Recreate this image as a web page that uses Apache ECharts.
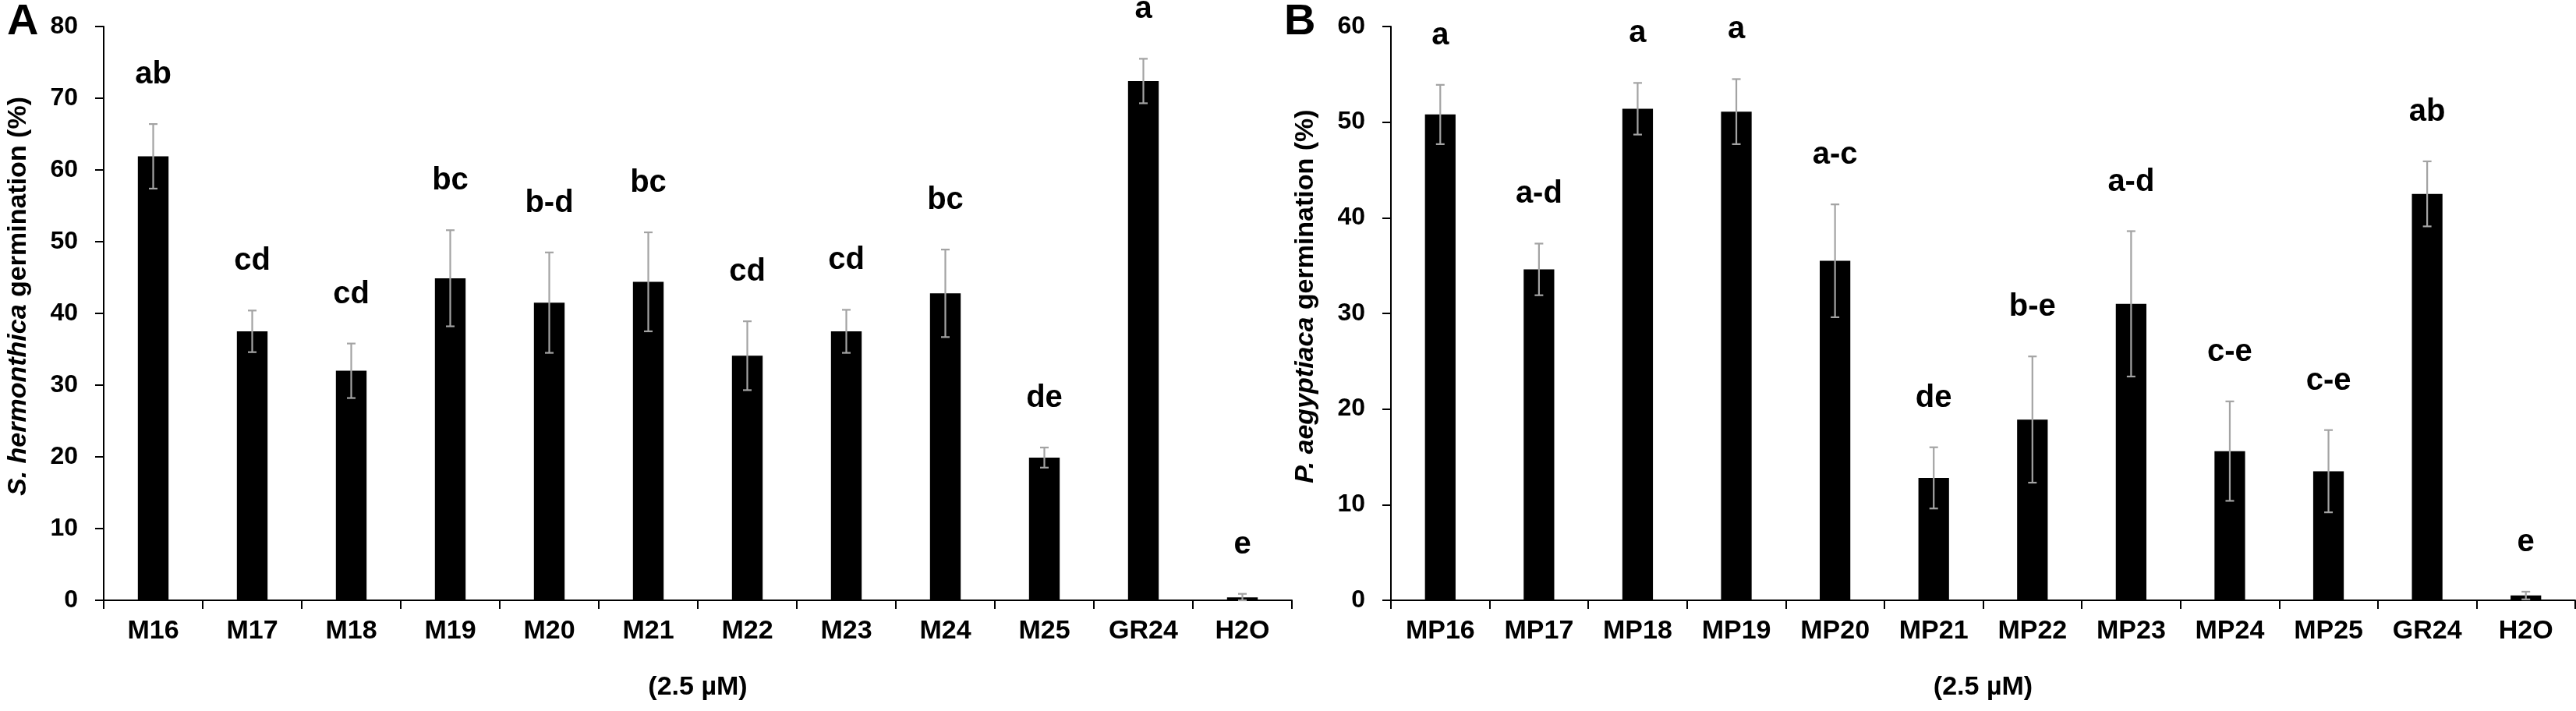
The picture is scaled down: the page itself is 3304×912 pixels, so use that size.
<!DOCTYPE html>
<html>
<head>
<meta charset="utf-8">
<script src="https://cdn.jsdelivr.net/npm/echarts@6/dist/echarts.min.js"></script>
<style>
  html, body { margin: 0; padding: 0; background: #fff; }
  #chart { width: 3304px; height: 912px; }
</style>
</head>
<body>
<div id="chart"></div>
<script>
// panel A - S. hermonthica
const catsA = ['M16', 'M17', 'M18', 'M19', 'M20', 'M21', 'M22', 'M23', 'M24', 'M25', 'GR24', 'H2O']
const meanA = [61.9, 37.5, 32.0, 44.9, 41.5, 44.4, 34.1, 37.5, 42.8, 19.9, 72.4, 0.4]
const errA = [4.5, 2.9, 3.8, 6.7, 7.0, 6.9, 4.8, 3.0, 6.1, 1.4, 3.1, 0.5]
const letA = ['ab', 'cd', 'cd', 'bc', 'b-d', 'bc', 'cd', 'cd', 'bc', 'de', 'a', 'e']
const ticksA = [0, 10, 20, 30, 40, 50, 60, 70, 80]

// panel B - P. aegyptiaca
const catsB = ['MP16', 'MP17', 'MP18', 'MP19', 'MP20', 'MP21', 'MP22', 'MP23', 'MP24', 'MP25', 'GR24', 'H2O']
const meanB = [50.8, 34.6, 51.4, 51.1, 35.5, 12.8, 18.9, 31.0, 15.6, 13.5, 42.5, 0.5]
const errB = [3.1, 2.7, 2.7, 3.4, 5.9, 3.2, 6.6, 7.6, 5.2, 4.3, 3.4, 0.4]
const letB = ['a', 'a-d', 'a', 'a', 'a-c', 'de', 'b-e', 'a-d', 'c-e', 'c-e', 'ab', 'e']
const ticksB = [0, 10, 20, 30, 40, 50, 60]

const FONT = '"Liberation Sans", Arial, sans-serif'

function xAxisFor(cats, gridIndex) {
    return {
        type: 'category',
        gridIndex: gridIndex,
        data: cats,
        boundaryGap: true,
        name: '(2.5 µM)',
        nameLocation: 'middle',
        nameGap: 95,
        nameTextStyle: { fontFamily: FONT, fontWeight: 'bold', fontSize: 34, color: '#000' },
        axisLine: { lineStyle: { color: '#000', width: 2 } },
        axisTick: { show: true, alignWithLabel: false, length: 11, lineStyle: { color: '#000', width: 2 } },
        axisLabel: { fontFamily: FONT, fontWeight: 'bold', fontSize: 34, color: '#000', margin: 23, interval: 0 },
        splitLine: { show: false }
    }
}

function yAxisFor(ticks, title, gridIndex) {
    return {
        type: 'value',
        gridIndex: gridIndex,
        min: ticks[0],
        max: ticks[ticks.length - 1],
        interval: ticks[1] - ticks[0],
        name: title,
        nameLocation: 'middle',
        nameGap: 92,
        nameRotate: 90,
        nameTextStyle: {
            fontFamily: FONT, fontWeight: 'bold', fontSize: 34, color: '#000',
            padding: [0, 0, 0, 44],
            rich: { i: { fontFamily: FONT, fontWeight: 'bold', fontStyle: 'italic', fontSize: 34, color: '#000' } }
        },
        axisLine: { show: true, lineStyle: { color: '#000', width: 2 } },
        axisTick: { show: true, length: 11, lineStyle: { color: '#000', width: 2 } },
        axisLabel: { fontFamily: FONT, fontWeight: 'bold', fontSize: 32, color: '#000', margin: 33 },
        splitLine: { show: false }
    }
}

// error bar + significance letter, placed through the axis scales
function errorSeries(means, errs, letters, idx) {
    return {
        type: 'custom',
        xAxisIndex: idx,
        yAxisIndex: idx,
        z: 5,
        data: means.map((m, i) => [i, Math.max(0, m - errs[i]), m + errs[i]]),
        renderItem: function (params, api) {
            const x = api.value(0)
            const lo = api.coord([x, api.value(1)])
            const hi = api.coord([x, api.value(2)])
            const cap = 5.5
            const st = { stroke: '#a3a3a3', lineWidth: 2.2 }
            return {
                type: 'group',
                children: [
                    { type: 'line', shape: { x1: hi[0], y1: hi[1], x2: lo[0], y2: lo[1] }, style: st },
                    { type: 'line', shape: { x1: hi[0] - cap, y1: hi[1], x2: hi[0] + cap, y2: hi[1] }, style: st },
                    { type: 'line', shape: { x1: lo[0] - cap, y1: lo[1], x2: lo[0] + cap, y2: lo[1] }, style: st },
                    {
                        type: 'text',
                        x: hi[0], y: hi[1] - 63,
                        style: {
                            text: letters[params.dataIndex],
                            fontFamily: FONT, fontWeight: 'bold', fontSize: 40, fill: '#000',
                            align: 'center', verticalAlign: 'middle'
                        }
                    }
                ]
            }
        }
    }
}

const chart = echarts.init(document.getElementById('chart'), null, { renderer: 'canvas' })
chart.setOption({
    animation: false,
    backgroundColor: '#fff',
    title: [
        { text: 'A', left: 4, top: -4, textStyle: { fontFamily: FONT, fontWeight: 'bold', fontSize: 56, color: '#000' } },
        { text: 'B', left: 1642, top: -4, textStyle: { fontFamily: FONT, fontWeight: 'bold', fontSize: 56, color: '#000' } }
    ],
    grid: [
        { left: 133, top: 34, width: 1524, height: 736 },
        { left: 1784, top: 34, width: 1519, height: 736 }
    ],
    xAxis: [xAxisFor(catsA, 0), xAxisFor(catsB, 1)],
    yAxis: [
        yAxisFor(ticksA, '{i|S. hermonthica} germination (%)', 0),
        yAxisFor(ticksB, '{i|P. aegyptiaca} germination (%)', 1)
    ],
    series: [
        { type: 'bar', xAxisIndex: 0, yAxisIndex: 0, data: meanA, barWidth: '31%', itemStyle: { color: '#000' } },
        errorSeries(meanA, errA, letA, 0),
        { type: 'bar', xAxisIndex: 1, yAxisIndex: 1, data: meanB, barWidth: '31%', itemStyle: { color: '#000' } },
        errorSeries(meanB, errB, letB, 1)
    ]
})
</script>
</body>
</html>
